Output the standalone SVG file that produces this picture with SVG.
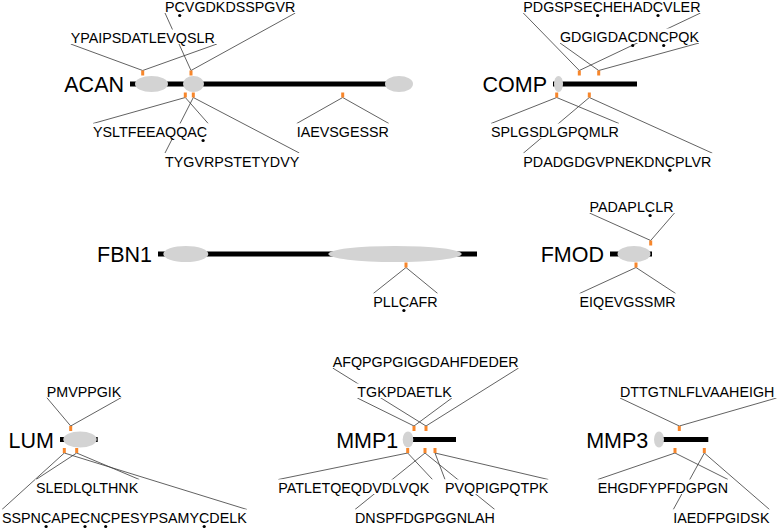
<svg xmlns="http://www.w3.org/2000/svg" width="777" height="529" viewBox="0 0 777 529">
<style>
  .bb{stroke:#000;stroke-width:5;fill:none}
  .dom{fill:#d3d3d3}
  .tk{fill:#f7862b}
  .gn{font-family:"Liberation Sans",Arial,sans-serif;font-size:21.5px;fill:#000;text-anchor:end}
  .lb{font-family:"Liberation Sans",Arial,sans-serif;font-size:14.3px;fill:#000}
  .bx{fill:#fff}
  .dt{fill:#000}
  #connectors line{stroke:#3a3a3a;stroke-width:0.8}
</style>
<rect width="777" height="529" fill="#fff"/>
<g id="connectors">
  <!-- ACAN -->
  <line x1="165" y1="13" x2="191" y2="70.5"/><line x1="295.3" y1="13" x2="191" y2="70.5"/>
  <line x1="70.7" y1="44" x2="142.7" y2="70.5"/><line x1="216.9" y1="44" x2="142.7" y2="70.5"/>
  <line x1="185.3" y1="97.5" x2="93" y2="123.5"/><line x1="185.3" y1="97.5" x2="208.2" y2="123.5"/>
  <line x1="193.3" y1="97.5" x2="165" y2="153"/><line x1="193.3" y1="97.5" x2="299.3" y2="153"/>
  <line x1="342.7" y1="97.5" x2="296.7" y2="123.5"/><line x1="342.7" y1="97.5" x2="388.9" y2="123.5"/>
  <!-- COMP -->
  <line x1="523.3" y1="13" x2="579.3" y2="70.5"/><line x1="700.5" y1="13" x2="579.3" y2="70.5"/>
  <line x1="560" y1="43" x2="598.7" y2="70.5"/><line x1="699" y1="43" x2="598.7" y2="70.5"/>
  <line x1="556.7" y1="97.5" x2="491" y2="123.5"/><line x1="556.7" y1="97.5" x2="619" y2="123.5"/>
  <line x1="589.3" y1="97.5" x2="523.3" y2="153.2"/><line x1="589.3" y1="97.5" x2="712.4" y2="153.2"/>
  <!-- FBN1 -->
  <line x1="406" y1="267.5" x2="373.3" y2="293.5"/><line x1="406" y1="267.5" x2="437.7" y2="293.5"/>
  <!-- FMOD -->
  <line x1="589.5" y1="213" x2="650.7" y2="240.5"/><line x1="674.5" y1="213" x2="650.7" y2="240.5"/>
  <line x1="636" y1="267.5" x2="579.5" y2="293.5"/><line x1="636" y1="267.5" x2="675.7" y2="293.5"/>
  <!-- LUM -->
  <line x1="46.7" y1="397.5" x2="70.7" y2="426"/><line x1="121.4" y1="397.5" x2="70.7" y2="426"/>
  <line x1="76.7" y1="453" x2="36" y2="479.5"/><line x1="76.7" y1="453" x2="139.3" y2="479.5"/>
  <line x1="64.3" y1="453" x2="2" y2="509.5"/><line x1="64.3" y1="453" x2="247" y2="509.5"/>
  <!-- MMP1 -->
  <line x1="332.7" y1="368" x2="426" y2="426"/><line x1="518.6" y1="368" x2="426" y2="426"/>
  <line x1="357.3" y1="398" x2="414" y2="426"/><line x1="451.9" y1="398" x2="414" y2="426"/>
  <line x1="407.7" y1="453" x2="278.3" y2="479.5"/><line x1="407.7" y1="453" x2="432.5" y2="479.5"/>
  <line x1="435" y1="453" x2="445" y2="479.5"/><line x1="435" y1="453" x2="548.3" y2="479.5"/>
  <line x1="425" y1="453" x2="355" y2="509.5"/><line x1="425" y1="453" x2="494.8" y2="509.5"/>
  <!-- MMP3 -->
  <line x1="620" y1="398" x2="679.3" y2="426"/><line x1="776.5" y1="398" x2="679.3" y2="426"/>
  <line x1="675" y1="453" x2="597.7" y2="479.5"/><line x1="675" y1="453" x2="728" y2="479.5"/>
  <line x1="704.3" y1="453" x2="673.3" y2="509.5"/><line x1="704.3" y1="453" x2="769.5" y2="509.5"/>
</g>

<g id="ACAN">
  <line class="bb" x1="130" y1="84" x2="399" y2="84"/>
  <ellipse class="dom" cx="151.5" cy="84" rx="16.5" ry="8"/>
  <ellipse class="dom" cx="193.5" cy="84" rx="10.5" ry="8"/>
  <ellipse class="dom" cx="399" cy="84" rx="14" ry="8"/>
  <rect class="tk" x="141.2" y="70.5" width="3" height="5"/>
  <rect class="tk" x="189.5" y="70.5" width="3" height="5"/>
  <rect class="tk" x="183.8" y="92.5" width="3" height="5"/>
  <rect class="tk" x="191.8" y="92.5" width="3" height="5"/>
  <rect class="tk" x="341.2" y="92.5" width="3" height="5"/>
  <text class="gn" x="124" y="92">ACAN</text>
</g>
<g id="COMP">
  <line class="bb" x1="553" y1="84" x2="637" y2="84"/>
  <ellipse class="dom" cx="558.5" cy="84" rx="4.5" ry="8"/>
  <rect class="tk" x="577.8" y="70.5" width="3" height="5"/>
  <rect class="tk" x="597.2" y="70.5" width="3" height="5"/>
  <rect class="tk" x="555.2" y="92.5" width="3" height="5"/>
  <rect class="tk" x="587.8" y="92.5" width="3" height="5"/>
  <text class="gn" x="547" y="92">COMP</text>
</g>
<g id="FBN1">
  <line class="bb" x1="158" y1="254" x2="477" y2="254"/>
  <ellipse class="dom" cx="185.8" cy="254" rx="22.5" ry="8"/>
  <ellipse class="dom" cx="395" cy="254" rx="66.7" ry="8"/>
  <rect class="tk" x="404.5" y="262.5" width="3" height="5"/>
  <text class="gn" x="152" y="262">FBN1</text>
</g>
<g id="FMOD">
  <line class="bb" x1="610" y1="254" x2="652" y2="254"/>
  <ellipse class="dom" cx="634" cy="254" rx="16.5" ry="8"/>
  <rect class="tk" x="649.2" y="240.5" width="3" height="5"/>
  <rect class="tk" x="634.5" y="262.5" width="3" height="5"/>
  <text class="gn" x="604" y="262">FMOD</text>
</g>
<g id="LUM">
  <line class="bb" x1="60" y1="439.5" x2="97.7" y2="439.5"/>
  <ellipse class="dom" cx="80" cy="439.5" rx="16.7" ry="8"/>
  <rect class="tk" x="69.2" y="426" width="3" height="5"/>
  <rect class="tk" x="62.8" y="448" width="3" height="5"/>
  <rect class="tk" x="75.2" y="448" width="3" height="5"/>
  <text class="gn" x="54" y="447.5">LUM</text>
</g>
<g id="MMP1">
  <line class="bb" x1="405" y1="439.5" x2="456" y2="439.5"/>
  <ellipse class="dom" cx="408" cy="439.5" rx="5.3" ry="8"/>
  <rect class="tk" x="412.5" y="426" width="3" height="5"/>
  <rect class="tk" x="424.5" y="426" width="3" height="5"/>
  <rect class="tk" x="406.2" y="448" width="3" height="5"/>
  <rect class="tk" x="423.5" y="448" width="3" height="5"/>
  <rect class="tk" x="433.5" y="448" width="3" height="5"/>
  <text class="gn" x="398.3" y="447.5">MMP1</text>
</g>
<g id="MMP3">
  <line class="bb" x1="657" y1="439.5" x2="708.3" y2="439.5"/>
  <ellipse class="dom" cx="659" cy="439.5" rx="5" ry="8"/>
  <rect class="tk" x="677.8" y="426" width="3" height="5"/>
  <rect class="tk" x="673.5" y="448" width="3" height="5"/>
  <rect class="tk" x="702.8" y="448" width="3" height="5"/>
  <text class="gn" x="648.3" y="447.5">MMP3</text>
</g>

<g id="labels">
  <g id="lbl-PCVGDKDSSPGVR"><rect class="bx" x="164" y="-1.5" width="132.3" height="14.5"/><text class="lb" x="165" y="12">PCVGDKDSSPGVR</text><circle class="dt" cx="179.7" cy="15.5" r="1.6"/></g>
  <g id="lbl-YPAIPSDATLEVQSLR"><rect class="bx" x="69.7" y="29.5" width="148.2" height="14.5"/><text class="lb" x="70.7" y="43">YPAIPSDATLEVQSLR</text></g>
  <g id="lbl-YSLTFEEAQQAC"><rect class="bx" x="92" y="123.5" width="117.2" height="14.5"/><text class="lb" x="93" y="137">YSLTFEEAQQAC</text><circle class="dt" cx="203.1" cy="140.5" r="1.6"/></g>
  <g id="lbl-TYGVRPSTETYDVY"><rect class="bx" x="164" y="153" width="136.3" height="14.5"/><text class="lb" x="165" y="166.5">TYGVRPSTETYDVY</text></g>
  <g id="lbl-IAEVSGESSR"><rect class="bx" x="295.7" y="123.5" width="94.2" height="14.5"/><text class="lb" x="296.7" y="137">IAEVSGESSR</text></g>

  <g id="lbl-PDGSPSECHEHADCVLER"><rect class="bx" x="522.3" y="-1.5" width="179.2" height="14.5"/><text class="lb" x="523.3" y="12">PDGSPSECHEHADCVLER</text><circle class="dt" cx="597.6" cy="15.5" r="1.6"/><circle class="dt" cx="658" cy="15.5" r="1.6"/></g>
  <g id="lbl-GDGIGDACDNCPQK"><rect class="bx" x="559" y="28.5" width="141" height="14.5"/><text class="lb" x="560" y="42">GDGIGDACDNCPQK</text><circle class="dt" cx="632.7" cy="45.5" r="1.6"/><circle class="dt" cx="663.7" cy="45.5" r="1.6"/></g>
  <g id="lbl-SPLGSDLGPQMLR"><rect class="bx" x="490" y="123.5" width="130" height="14.5"/><text class="lb" x="491" y="137">SPLGSDLGPQMLR</text></g>
  <g id="lbl-PDADGDGVPNEKDNCPLVR"><rect class="bx" x="522.3" y="153.2" width="191.1" height="14.5"/><text class="lb" x="523.3" y="166.7">PDADGDGVPNEKDNCPLVR</text><circle class="dt" cx="669.9" cy="170.2" r="1.6"/></g>

  <g id="lbl-PLLCAFR"><rect class="bx" x="372.3" y="293.5" width="66.4" height="14.5"/><text class="lb" x="373.3" y="307">PLLCAFR</text><circle class="dt" cx="403.9" cy="310.5" r="1.6"/></g>
  <g id="lbl-PADAPLCLR"><rect class="bx" x="588.5" y="198.5" width="87" height="14.5"/><text class="lb" x="589.5" y="212">PADAPLCLR</text><circle class="dt" cx="650.1" cy="215.5" r="1.6"/></g>
  <g id="lbl-EIQEVGSSMR"><rect class="bx" x="578.5" y="293.5" width="98.2" height="14.5"/><text class="lb" x="579.5" y="307">EIQEVGSSMR</text></g>

  <g id="lbl-PMVPPGIK"><rect class="bx" x="45.7" y="383" width="76.7" height="14.5"/><text class="lb" x="46.7" y="396.5">PMVPPGIK</text></g>
  <g id="lbl-SLEDLQLTHNK"><rect class="bx" x="35" y="479.5" width="105.3" height="14.5"/><text class="lb" x="36" y="493">SLEDLQLTHNK</text></g>
  <g id="lbl-SSPNCAPECNCPESYPSAMYCDELK"><rect class="bx" x="1" y="509.5" width="247" height="14.5"/><text class="lb" x="2" y="523">SSPNCAPECNCPESYPSAMYCDELK</text><circle class="dt" cx="46.1" cy="526.5" r="1.6"/><circle class="dt" cx="85" cy="526.5" r="1.6"/><circle class="dt" cx="105.7" cy="526.5" r="1.6"/><circle class="dt" cx="204.2" cy="526.5" r="1.6"/></g>

  <g id="lbl-AFQPGPGIGGDAHFDEDER"><rect class="bx" x="331.7" y="353.5" width="187.9" height="14.5"/><text class="lb" x="332.7" y="367">AFQPGPGIGGDAHFDEDER</text></g>
  <g id="lbl-TGKPDAETLK"><rect class="bx" x="356.3" y="383.5" width="96.6" height="14.5"/><text class="lb" x="357.3" y="397">TGKPDAETLK</text></g>
  <g id="lbl-PATLETQEQDVDLVQK"><rect class="bx" x="277.3" y="479.5" width="156.2" height="14.5"/><text class="lb" x="278.3" y="493">PATLETQEQDVDLVQK</text></g>
  <g id="lbl-PVQPIGPQTPK"><rect class="bx" x="444" y="479.5" width="105.3" height="14.5"/><text class="lb" x="445" y="493">PVQPIGPQTPK</text></g>
  <g id="lbl-DNSPFDGPGGNLAH"><rect class="bx" x="354" y="509.5" width="141.8" height="14.5"/><text class="lb" x="355" y="523">DNSPFDGPGGNLAH</text></g>

  <g id="lbl-DTTGTNLFLVAAHEIGH"><rect class="bx" x="619" y="383.5" width="158" height="14.5"/><text class="lb" x="620" y="397">DTTGTNLFLVAAHEIGH</text></g>
  <g id="lbl-EHGDFYPFDGPGN"><rect class="bx" x="596.7" y="479.5" width="132.3" height="14.5"/><text class="lb" x="597.7" y="493">EHGDFYPFDGPGN</text></g>
  <g id="lbl-IAEDFPGIDSK"><rect class="bx" x="672.3" y="509.5" width="98.2" height="14.5"/><text class="lb" x="673.3" y="523">IAEDFPGIDSK</text></g>
</g>
</svg>
